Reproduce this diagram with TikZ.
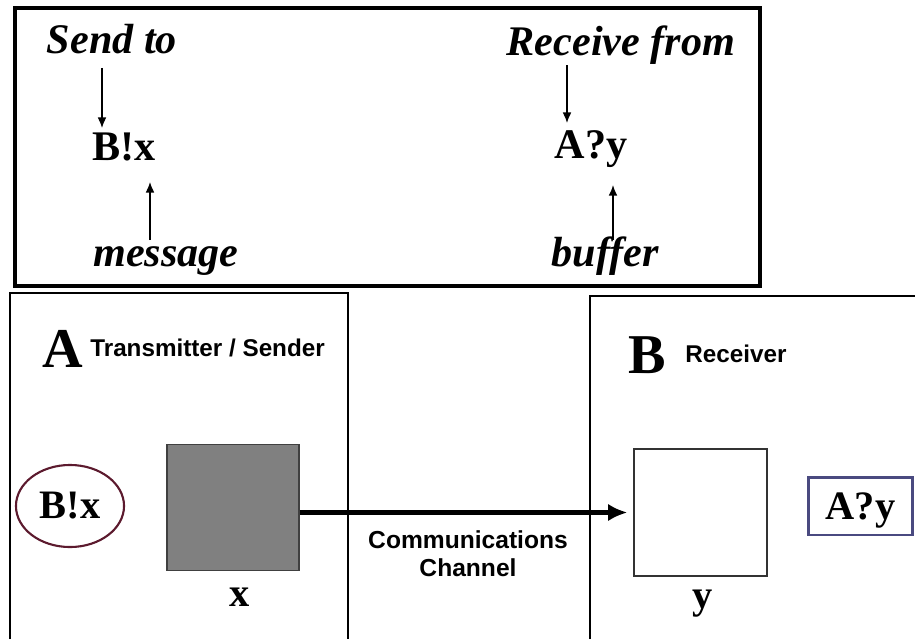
\documentclass[tikz,border=0pt]{standalone}
\usepackage{fontspec}
\setmainfont{Liberation Serif}
\setsansfont{Liberation Sans}
\usetikzlibrary{arrows.meta,shapes.geometric}
\definecolor{ovalred}{HTML}{5C1A2E}
\definecolor{boxblue}{HTML}{4A4A80}
\begin{document}
\begin{tikzpicture}[x=0.02cm,y=-0.02cm,
	note/.style={font=\fontsize{24}{28}\selectfont\bfseries\itshape,inner sep=1pt,anchor=base},
	proc/.style={font=\fontsize{24}{28}\selectfont\bfseries,inner sep=1pt,anchor=base},
	var/.style={font=\fontsize{23}{26}\selectfont\bfseries,inner sep=1pt},
	big/.style={font=\fontsize{32}{36}\selectfont\bfseries,inner sep=0pt,anchor=base},
	role/.style={font=\fontsize{13.8}{16}\selectfont\sffamily\bfseries,inner sep=0pt,anchor=base west},
	pointer/.style={line width=0.8pt,-{Latex[length=6pt,width=5pt]}},
	frame/.style={line width=0.8pt}]
	\useasboundingbox (0,0) rectangle (915,639);
	\fill [white] (0,0) rectangle (915,639);

	% top box
	\draw [line width=2.2pt] (15,8) rectangle (760,286);
	\node [note] (sendto) at (112,53) {Send to};
	\node [proc] (bxtop) at (124,160) {B!x};
	\node [note] (msg) at (166,266) {message};
	\node [note] (recvfrom) at (621,55) {Receive from};
	\node [proc] (aytop) at (591,158) {A?y};
	\node [note] (buf) at (605,266) {buffer};

	\draw [pointer, shorten <=8.5pt, shorten >=18.2pt] (sendto.base -| 102,0) -- (bxtop.base -| 102,0);
	\draw [pointer, shorten <=14.8pt, shorten >=12.5pt] (msg.base -| 150,0) -- (bxtop.base -| 150,0);
	\draw [pointer, shorten <=5.7pt, shorten >=19.9pt] (recvfrom.base -| 567,0) -- (aytop.base -| 567,0);
	\draw [pointer, shorten <=14.8pt, shorten >=15.4pt] (buf.base -| 613,0) -- (aytop.base -| 613,0);

	% sender A
	\draw [frame] (10,639) -- (10,293) -- (348,293) -- (348,639);
	\node [big] (lettera) at (63,367) {A};
	\node [role] (sender) at (90,356) {Transmitter / Sender};
	\node [var, ellipse, draw=ovalred, line width=1.2pt, inner sep=0pt,
		minimum width=61.5pt, minimum height=46.7pt] (sendop) at (70,506) {B!x};
	\node [draw=black!75, fill=black!50, line width=0.8pt, inner sep=0pt,
		minimum width=75pt, minimum height=72pt] (bufx) at (233,507.5) {};
	\node [var] (xlbl) at (240,597) {x};

	% receiver B
	\draw [frame] (590,639) -- (590,296) -- (915,296);
	\node [big] (letterb) at (647,373) {B};
	\node [role] (receiver) at (685,362) {Receiver};
	\node [draw=black!80, line width=0.8pt, inner sep=0pt,
		minimum width=75.7pt, minimum height=72.3pt] (bufy) at (700.5,512.5) {};
	\node [var] (ylbl) at (703,604) {y};
	\node [var, draw=boxblue, line width=1.7pt, inner sep=0pt, text depth=0pt,
		minimum width=59.7pt, minimum height=33pt] (recvop) at (860.5,506) {A?y};

	% channel
	\draw [line width=2.3pt, -{Latex[length=11pt,width=10pt]}, shorten >=3.4pt]
		(bufx.east |- bufy.west) -- (bufy.west);
	\node [font=\fontsize{14}{16}\selectfont\sffamily\bfseries, align=center] (chan) at (468,554) {Communications\\Channel};
\end{tikzpicture}
\end{document}
